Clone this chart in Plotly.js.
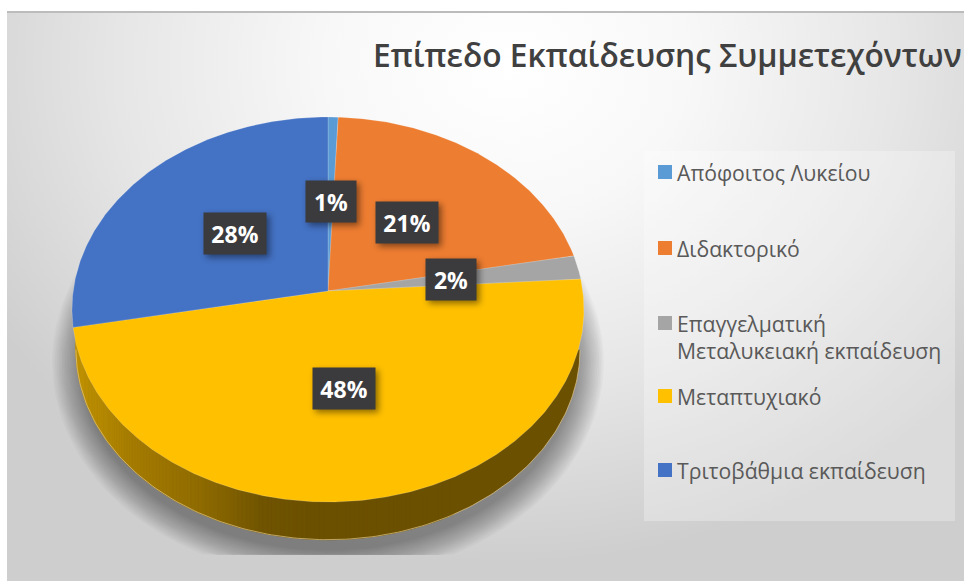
<!DOCTYPE html>
<html>
<head>
<meta charset="utf-8">
<script src="https://cdn.plot.ly/plotly-3.0.1.min.js"></script>
<style>
html,body{margin:0;padding:0;background:#fff;width:964px;height:581px;overflow:hidden}
#bg{position:absolute;left:7px;top:11px;width:957px;height:570px;border-top:2px solid #bcbcbc;box-sizing:border-box;
background:radial-gradient(ellipse 600px 500px at 500px 50px,#ffffff 0%,#f8f8f8 30%,#e6e6e6 65%,#cecece 100%)}
#chart{position:absolute;left:0;top:0;width:964px;height:581px}
.lab rect{filter:drop-shadow(3px 3px 3px rgba(0,0,0,.45))}
</style>
</head>
<body>
<div id="bg"></div>
<div id="chart"></div>
<script>
// ---- data ----
const categories = ["Απόφοιτος Λυκείου","Διδακτορικό","Επαγγελματική\nΜεταλυκειακή εκπαίδευση","Μεταπτυχιακό","Τριτοβάθμια εκπαίδευση"];
const values = [0.7, 21.3, 2, 48, 28];
const sliceLabels = ["1%","21%","2%","48%","28%"];
const colors = ["#5B9BD5","#ED7D31","#A5A5A5","#FFC000","#4472C4"];
const titleText = "Επίπεδο Εκπαίδευσης Συμμετεχόντων";

// ---- geometry of the tilted disc (screen pixels on the axes) ----
const cx = 328, apexY = 291, A = 254.8, B = 190.7, K = 0.0961;
function project(r, t){            // t = clockwise from top, radians
  const u = r*Math.sin(t), v = -r*Math.cos(t), w = 1 - K*v;
  return [cx + A*u/w, apexY + B*v/w];
}
const total = values.reduce((a,b)=>a+b,0);
const traces = [];

// soft shadow
for(let i=0;i<18;i++){
  const a = 276 - i*1.6, b = 216 - i*1.6, xs=[], ys=[];
  for(let d=0;d<=360;d+=3){
    const t=d*Math.PI/180;
    xs.push(cx + a*Math.cos(t));
    ys.push(Math.min(555, 362 + b*Math.sin(t)));
  }
  traces.push({type:"scatter",mode:"lines",x:xs,y:ys,fill:"toself",fillcolor:"rgba(0,0,0,0.024)",
    line:{width:0},hoverinfo:"skip",showlegend:false});
}

// side wall, from the lower disc
const rimStops = [[76,[192,146,0]],[130,[166,124,0]],[200,[143,107,0]],[262,[112,84,0]],[310,[107,80,0]],[964,[107,80,0]]];
function rimColor(x){
  for(let i=1;i<rimStops.length;i++){
    if(x<=rimStops[i][0]){
      const [x0,c0]=rimStops[i-1],[x1,c1]=rimStops[i],f=Math.max(0,(x-x0)/(x1-x0));
      return "rgb("+c0.map((c,j)=>Math.round(c+(c1[j]-c)*f)).join(",")+")";
    }
  }
}
const rimA=252, rimB=190, rimCy=349.7;
const arcX=[], arcY=[];
for(let d=0;d<=180;d+=1){
  const t=d*Math.PI/180;
  arcX.push(cx+rimA*Math.cos(t)); arcY.push(rimCy+rimB*Math.sin(t));
}
traces.push({type:"scatter",mode:"lines",x:arcX,y:arcY,fill:"toself",fillcolor:"#6B5000",line:{width:0},hoverinfo:"skip",showlegend:false});
for(let i=60;i<180;i+=1){
  const xs=[arcX[i],arcX[i+1],arcX[i+1],arcX[i]],ys=[arcY[i],arcY[i+1],rimCy-30,rimCy-30];
  const c=rimColor((arcX[i]+arcX[i+1])/2);
  traces.push({type:"scatter",mode:"lines",x:xs,y:ys,fill:"toself",fillcolor:c,line:{width:1,color:c},hoverinfo:"skip",showlegend:false});
}
traces.push({type:"scatter",mode:"lines",x:arcX,y:arcY,line:{width:1,color:"rgba(225,200,140,.7)"},hoverinfo:"skip",showlegend:false});

// slices
let cum=0;
const annotations=[];
values.forEach((val,i)=>{
  const t0=cum/total*2*Math.PI, t1=(cum+val)/total*2*Math.PI;
  cum+=val;
  const xs=[cx],ys=[apexY];
  const n=Math.max(2,Math.ceil((t1-t0)/0.01));
  for(let k=0;k<=n;k++){
    const p=project(1,t0+(t1-t0)*k/n);
    xs.push(p[0]);ys.push(p[1]);
  }
  xs.push(cx);ys.push(apexY);
  traces.push({type:"scatter",mode:"lines",name:categories[i].replace("\n"," "),x:xs,y:ys,fill:"toself",fillcolor:colors[i],
    line:{width:0.6,color:"rgba(255,255,255,.3)"},hoverinfo:"name",showlegend:false});
  const lp=project(0.49,(t0+t1)/2);
  annotations.push({x:lp[0],y:lp[1],xref:"x",yref:"y",text:"<b>"+sliceLabels[i]+"</b>",showarrow:false,
    font:{family:"Open Sans",size:23,color:"#ffffff"},bgcolor:"#3b3b3d",
    width:sliceLabels[i].length>2?62:50,height:41,align:"center",valign:"middle",borderpad:0,captureevents:false});
});

// legend
const legendSwatchX=665, legendTextX=676;
const legendY=[172,248,323,396,470];
traces.push({type:"scatter",mode:"markers",x:categories.map(()=>legendSwatchX),y:legendY,
  marker:{symbol:"square",size:14,color:colors,line:{width:0}},hoverinfo:"skip",showlegend:false});
categories.forEach((c,i)=>{
  c.split("\n").forEach((line,k)=>{
    annotations.push({x:legendTextX,y:legendY[i]+k*27.5,xref:"x",yref:"y",text:line,showarrow:false,xanchor:"left",yanchor:"middle",
      font:{family:"Open Sans",size:21.2,color:"#595959"},borderpad:0});
  });
});

const layout={
  width:964,height:581,margin:{l:0,r:0,t:0,b:0},
  paper_bgcolor:"rgba(0,0,0,0)",plot_bgcolor:"rgba(0,0,0,0)",
  title:{text:titleText,x:373/964,xanchor:"left",y:1-56/581,yanchor:"middle",
    font:{family:"Open Sans",size:31.7,weight:600,color:"#404040"}},
  xaxis:{range:[0,964],visible:false,fixedrange:true},
  yaxis:{range:[581,0],visible:false,fixedrange:true},
  shapes:[{type:"rect",xref:"x",yref:"y",x0:644,x1:955,y0:151,y1:521,fillcolor:"rgba(255,255,255,.28)",line:{width:0},layer:"below"}],
  annotations:annotations,
  showlegend:false
};
Plotly.newPlot("chart",traces,layout,{displayModeBar:false}).then(()=>{
  document.querySelectorAll(".annotation").forEach((g,i)=>{ if(i<values.length) g.classList.add("lab"); });
});
</script>
</body>
</html>
